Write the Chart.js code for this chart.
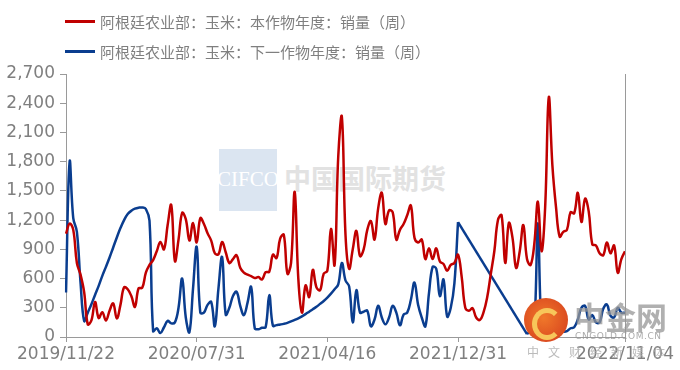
<!DOCTYPE html>
<html lang="zh">
<head>
    <meta charset="UTF-8">
    <title>阿根廷玉米销量</title>
    <script src="https://cdn.jsdelivr.net/npm/chart.js"></script>
    <style>
        body { margin: 0; background: #fff; }
        .wrap { position: relative; width: 680px; height: 370px; overflow: hidden; }
        #chart { position: absolute; left: 0; top: 0; z-index: 2; }
        .legend { position: absolute; left: 65px; z-index: 3; font: 15px "Noto Sans CJK SC"; color: #7f7f7f; display: flex; align-items: center; white-space: nowrap; }
        .legend i { display: inline-block; width: 30px; height: 3px; margin-right: 5px; }
        .wm { position: absolute; white-space: nowrap; }
    </style>
</head>
<body>
<div class="wrap">
    <!-- watermark behind the lines -->
    <div class="wm" style="left:219px;top:149px;width:58px;height:62px;background:#dbe5f1;z-index:1"></div>
    <div class="wm" style="left:217px;top:167px;font:21px 'Liberation Serif';color:#fff;z-index:1">CIFCO</div>
    <div class="wm" style="left:284px;top:158px;font:bold 27px 'Noto Sans CJK SC';color:#e2e2e2;z-index:1">中国国际期货</div>

    <canvas id="chart" width="680" height="370"></canvas>

    <div class="legend" style="top:11px"><i style="background:#c00000"></i>阿根廷农业部：玉米：本作物年度：销量（周）</div>
    <div class="legend" style="top:41px"><i style="background:#0a3d8f"></i>阿根廷农业部：玉米：下一作物年度：销量（周）</div>

    <!-- logo watermark on top -->
    <div class="wm" style="left:524px;top:298px;width:44px;height:44px;border-radius:50%;background:radial-gradient(circle at 45% 45%,#f0782a,#d33a1c);z-index:4"></div>
    <div class="wm" style="left:532px;top:308px;width:20px;height:22px;border-radius:50%;border:5px solid #f7c65a;border-right-color:transparent;z-index:4"></div>
    <div class="wm" style="left:574px;top:293px;font:bold 31px 'Noto Sans CJK SC';color:rgba(150,150,150,0.75);z-index:4">中金网</div>
    <div class="wm" style="left:575px;top:331px;font:9px 'DejaVu Sans';letter-spacing:0.6px;color:rgba(150,150,150,0.8);z-index:4">CNGOLD.COM.CN</div>
    <div class="wm" style="left:527px;top:343px;font:12px 'Noto Sans CJK SC';letter-spacing:9px;color:rgba(170,170,170,0.8);z-index:4">中文财经新媒体</div>
</div>

<script>
    // weekly sales, index 0 = 2019/11/22
    const currentYear = [
        1060, 1165, 1100, 760, 640, 460, 130, 170, 360, 195,
        255, 170, 270, 345, 190, 330, 510, 490, 420, 310,
        500, 505, 660, 740, 790, 880, 975, 900, 1150, 1355,
        780, 1000, 1275, 1210, 990, 1170, 970, 1220, 1160, 1065,
        990, 860, 850, 975, 870, 760, 800, 840, 710, 660,
        640, 625, 605, 615, 590, 665, 670, 845, 810, 1010,
        1050, 650, 760, 1490, 600, 250, 530, 410, 690, 510,
        480, 650, 680, 1110, 740, 1850, 2260, 1050, 700, 900,
        1090, 830, 900, 1100, 1190, 1000, 1320, 1480, 1160, 1300,
        1280, 1000, 1100, 1160, 1250, 1350, 1020, 970, 1000, 800,
        910, 800, 910, 775, 750, 680, 740, 760, 845, 620,
        300, 270, 295, 200, 175, 250, 400, 640, 880, 1200,
        1250, 760, 1170, 1020, 710, 880, 1150, 800, 740, 950,
        1390, 880, 1330, 2460, 1760, 1330, 1030, 1080, 1100, 1280,
        1270, 1480, 1180, 1420, 1290, 950, 940, 860, 840, 970,
        860, 940, 660, 800, 880
    ];

    // null = no report that week
    const nextYear = [
        456, 1800, 1220, 1080, 560, 165, 250, 336, 432, 525,
        628, 720, 816, 919, 1022, 1118, 1200, 1262, 1296, 1317,
        1327, 1330, 1314, 1194, 60, 90, 40, 100, 165, 140,
        150, 300, 600, 200, 50, 500, 925, 250, 250, 330,
        360, 110, 500, 820, 230, 300, 420, 465, 320, 225,
        350, 515, 90, 80, 95, 100, 430, 115, 122, 128,
        135, 145, 160, 175, 192, 212, 235, 260, 285, 311,
        340, 370, 405, 445, 490, 540, 760, 580, 520, 150,
        480, 250, 260, 270, 110, 180, 320, 200, 130, 200,
        320, 250, 120, 230, 250, 380, 560, 330, 200, 110,
        450, 720, 700, 420, 590, 210, 300, 550, 1180, null,
        null, null, null, null, null, null, null, null, null, null,
        null, null, null, null, null, null, null, 30, 60, 100,
        1170, 100, 50, 60, 60, 50, 60, 55, 60, 90,
        100, 180, 300, 320, 180, 225, 150, 150, 290, 335,
        220, 200, 300, 250, 250
    ];

    const weeks = currentYear.map((v, i) => i);

    // labelled ticks on the date axis
    const tickIndex = [0, 36, 72, 108, 154];
    const tickText = ['2019/11/22', '2020/07/31', '2021/04/16', '2021/12/31', '2022/11/04'];

    // the points on both sides of a missing run get joined with a straight line
    const gapEnds = nextYear.map((v, i, a) =>
        v !== null && (a[i - 1] === null || a[i + 1] === null) ? v : null);

    const axisGrey = '#9a9a9a';
    const textGrey = '#7f7f7f';
    const red = '#c00000';
    const blue = '#0a3d8f';

    // right-hand frame line
    const rightLine = {
        id: 'rightLine',
        afterDraw(chart) {
            const a = chart.chartArea, ctx = chart.ctx;
            ctx.save();
            ctx.strokeStyle = axisGrey;
            ctx.lineWidth = 1;
            ctx.beginPath();
            ctx.moveTo(Math.round(a.right) + 0.5, a.top);
            ctx.lineTo(Math.round(a.right) + 0.5, a.bottom);
            ctx.stroke();
            ctx.restore();
        }
    };

    new Chart(document.getElementById('chart'), {
        type: 'line',
        data: {
            labels: weeks,
            datasets: [{
                label: '阿根廷农业部：玉米：本作物年度：销量（周）',
                data: currentYear,
                borderColor: red,
                borderWidth: 2.5,
                pointRadius: 0,
                tension: 0.4
            }, {
                label: '阿根廷农业部：玉米：下一作物年度：销量（周）',
                data: nextYear,
                borderColor: blue,
                borderWidth: 2.5,
                pointRadius: 0,
                tension: 0.4
            }, {
                label: 'gap',
                data: gapEnds,
                borderColor: blue,
                borderWidth: 2.5,
                pointRadius: 0,
                tension: 0,
                spanGaps: true
            }]
        },
        options: {
            responsive: false,
            animation: false,
            layout: { padding: { top: 74, right: 55, left: 0, bottom: 0 } },
            plugins: { legend: { display: false }, tooltip: { enabled: false } },
            scales: {
                x: {
                    offset: false,
                    grid: { drawOnChartArea: false, drawTicks: true, tickLength: 5, color: axisGrey },
                    border: { color: axisGrey },
                    ticks: {
                        autoSkip: false,
                        maxRotation: 0,
                        padding: 2,
                        color: textGrey,
                        font: { family: 'DejaVu Sans', size: 17 },
                        callback: (v, i) => {
                            const k = tickIndex.indexOf(i);
                            return k >= 0 ? tickText[k] : null;
                        }
                    },
                    afterFit: s => { s.height = 33; s.paddingLeft = 0; s.paddingRight = 0; }
                },
                y: {
                    min: 0,
                    max: 2700,
                    grid: { drawOnChartArea: false, drawTicks: true, tickLength: 6, color: axisGrey },
                    border: { color: axisGrey },
                    ticks: {
                        stepSize: 300,
                        padding: 5,
                        color: textGrey,
                        font: { family: 'DejaVu Sans', size: 17 }
                    },
                    afterFit: s => { s.width = 66; }
                }
            }
        },
        plugins: [rightLine]
    });
</script>
</body>
</html>
